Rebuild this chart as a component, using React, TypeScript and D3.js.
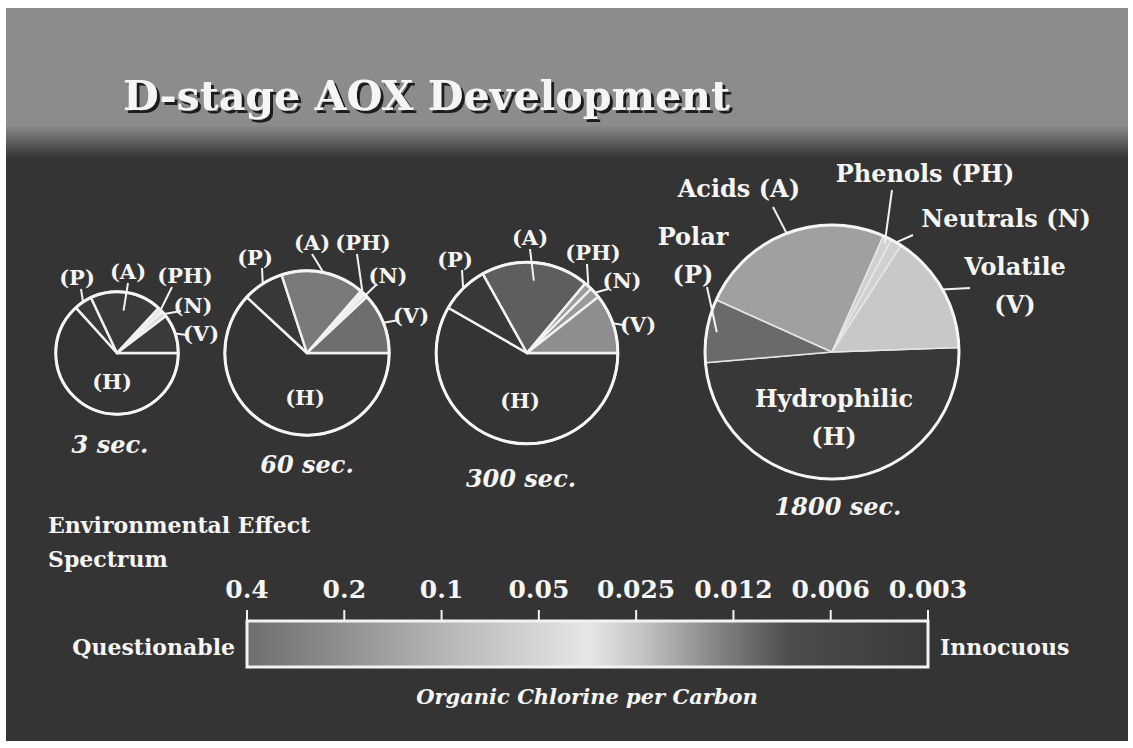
import * as d3 from "d3";

// AOX fractions, same order in every pie
const categories = ["H", "P", "A", "PH", "N", "V"];
const timeLabels = ["3 sec.", "60 sec.", "300 sec.", "1800 sec."];
// relative total AOX -> pie area
const totalAOX = [1.0, 1.8, 2.2, 4.3];
// % of AOX in each fraction (categories order)
const share3 = [63.3, 4.7, 18.9, 1.4, 1.4, 10.3];
const share60 = [61.9, 8.1, 16.4, 0.8, 0.8, 12.0];
const share300 = [58.3, 8.6, 19.2, 1.4, 1.9, 10.6];
const share1800 = [49.2, 8.1, 24.9, 1.1, 1.4, 15.3];
const shares = [share3, share60, share300, share1800];
// Cl/C spectrum
const tickLabels = ["0.4", "0.2", "0.1", "0.05", "0.025", "0.012", "0.006", "0.003"];

const W = 1133;
const H = 748;
const BG = "#343434";
const FONT = "'DejaVu Serif', serif";
const TXT = "#f5f5f5";

// layout of the four pies
const pieLayout = [
  { cx: 117, cy: 353, start: 90, fs: 21, fills: ["#343434", "#3a3a3a", "#3a3a3a", "#e8e8e8", "#d6d6d6", "#3a3a3a"], time: { x: 110, y: 453 } },
  { cx: 307, cy: 353, start: 90, fs: 21, fills: ["#343434", "#383838", "#7a7a7a", "#f0f0f0", "#e0e0e0", "#6e6e6e"], time: { x: 307, y: 473 } },
  { cx: 527, cy: 353, start: 90, fs: 21, fills: ["#343434", "#383838", "#5e5e5e", "#9a9a9a", "#9a9a9a", "#8e8e8e"], time: { x: 521, y: 487 } },
  { cx: 832, cy: 352, start: 88, fs: 24, fills: ["#383838", "#6a6a6a", "#a0a0a0", "#d0d0d0", "#d0d0d0", "#c8c8c8"], time: { x: 838, y: 515 } },
];

type Lab = { cat: string; lines: string[]; x: number; y: number; lx?: number; ly?: number; k?: number; anchor?: string };

const pieLabels: Lab[][] = [
  [
    { cat: "P", lines: ["(P)"], x: 77, y: 285, lx: 81, ly: 289, k: 1 },
    { cat: "A", lines: ["(A)"], x: 128, y: 279, lx: 128, ly: 283, k: 0.7 },
    { cat: "PH", lines: ["(PH)"], x: 185, y: 283, lx: 172, ly: 287, k: 1 },
    { cat: "N", lines: ["(N)"], x: 193, y: 313, lx: 181, ly: 311, k: 1 },
    { cat: "V", lines: ["(V)"], x: 201, y: 341, lx: 187, ly: 335, k: 1 },
    { cat: "H", lines: ["(H)"], x: 112, y: 389 },
  ],
  [
    { cat: "P", lines: ["(P)"], x: 255, y: 265, lx: 262, ly: 268, k: 1 },
    { cat: "A", lines: ["(A)"], x: 312, y: 250, lx: 312, ly: 254, k: 1 },
    { cat: "PH", lines: ["(PH)"], x: 363, y: 250, lx: 357, ly: 254, k: 1 },
    { cat: "N", lines: ["(N)"], x: 388, y: 283, lx: 377, ly: 284, k: 1 },
    { cat: "V", lines: ["(V)"], x: 411, y: 323, lx: 399, ly: 320, k: 1 },
    { cat: "H", lines: ["(H)"], x: 305, y: 405 },
  ],
  [
    { cat: "P", lines: ["(P)"], x: 455, y: 267, lx: 462, ly: 270, k: 1 },
    { cat: "A", lines: ["(A)"], x: 530, y: 245, lx: 530, ly: 249, k: 0.8 },
    { cat: "PH", lines: ["(PH)"], x: 593, y: 260, lx: 587, ly: 264, k: 1 },
    { cat: "N", lines: ["(N)"], x: 622, y: 288, lx: 608, ly: 289, k: 1 },
    { cat: "V", lines: ["(V)"], x: 638, y: 332, lx: 623, ly: 325, k: 1 },
    { cat: "H", lines: ["(H)"], x: 520, y: 408 },
  ],
  [
    { cat: "P", lines: ["Polar", "(P)"], x: 693, y: 245, lx: 707, ly: 287, k: 0.92 },
    { cat: "A", lines: ["Acids (A)"], x: 800, y: 197, lx: 773, ly: 207, k: 1, anchor: "end" },
    { cat: "PH", lines: ["Phenols (PH)"], x: 925, y: 182, lx: 892, ly: 190, k: 0.95 },
    { cat: "N", lines: ["Neutrals (N)"], x: 1006, y: 227, lx: 913, ly: 235, k: 1 },
    { cat: "V", lines: ["Volatile", "(V)"], x: 1015, y: 275, lx: 970, ly: 288, k: 1 },
    { cat: "H", lines: ["Hydrophilic", "(H)"], x: 834, y: 407 },
  ],
];

function Pie({ idx }: { idx: number }) {
  const lay = pieLayout[idx];
  const rScale = d3.scaleSqrt().domain([0, 4.3]).range([0, 127]);
  const r = rScale(totalAOX[idx]);
  const a0 = (lay.start * Math.PI) / 180;
  const arcs = d3.pie<number>().sort(null).startAngle(a0).endAngle(a0 + 2 * Math.PI)(shares[idx]);
  const arc = d3.arc<d3.PieArcDatum<number>>().innerRadius(0).outerRadius(r);
  const big = idx === 3;

  return (
    <g>
      <g transform={`translate(${lay.cx},${lay.cy})`}>
        {arcs.map((a, i) => (
          <path key={i} d={arc(a) || ""} fill={lay.fills[i]} stroke={big ? "#e6e6e6" : "#f2f2f2"} strokeWidth={big ? 1.6 : 2.4} strokeLinejoin="round" />
        ))}
        <circle r={r} fill="none" stroke="#f5f5f5" strokeWidth={3} />
      </g>
      {pieLabels[idx].map((l, i) => {
        const ci = categories.indexOf(l.cat);
        const s = arcs[ci];
        const mid = (s.startAngle + s.endAngle) / 2;
        const k = l.k ?? 1;
        const ex = lay.cx + k * r * Math.sin(mid);
        const ey = lay.cy - k * r * Math.cos(mid);
        return (
          <g key={i}>
            {l.lx !== undefined && (
              <line x1={l.lx} y1={l.ly} x2={ex} y2={ey} stroke="#f2f2f2" strokeWidth={2} />
            )}
            {l.lines.map((t, j) => (
              <text key={j} x={l.x} y={l.y + j * (lay.fs + 14)} textAnchor={l.anchor || "middle"} fontFamily={FONT} fontWeight="bold" fontSize={lay.fs} fill={TXT}>
                {t}
              </text>
            ))}
          </g>
        );
      })}
      <text x={lay.time.x} y={lay.time.y} textAnchor="middle" fontFamily={FONT} fontWeight="bold" fontStyle="italic" fontSize={24} fill={TXT}>
        {timeLabels[idx]}
      </text>
    </g>
  );
}

function Spectrum() {
  const x = d3.scalePoint<string>().domain(tickLabels).range([247, 928]);
  const top = 621;
  const bottom = 667;
  return (
    <g fontFamily={FONT} fontWeight="bold" fill={TXT}>
      <defs>
        <linearGradient id="clgrad" x1="0" x2="1" y1="0" y2="0">
          <stop offset="0" stopColor="#6e6e6e" />
          <stop offset="0.12" stopColor="#8a8a8a" />
          <stop offset="0.3" stopColor="#b8b8b8" />
          <stop offset="0.5" stopColor="#e6e6e6" />
          <stop offset="0.58" stopColor="#c4c4c4" />
          <stop offset="0.68" stopColor="#8a8a8a" />
          <stop offset="0.8" stopColor="#4c4c4c" />
          <stop offset="1" stopColor="#3a3a3a" />
        </linearGradient>
      </defs>
      <text x={48} y={533} fontSize={22}>Environmental Effect</text>
      <text x={48} y={567} fontSize={22}>Spectrum</text>
      {tickLabels.map((t) => (
        <g key={t}>
          <text x={x(t)} y={598} fontSize={25} textAnchor="middle">{t}</text>
          <line x1={x(t)} x2={x(t)} y1={610} y2={top} stroke="#f2f2f2" strokeWidth={2} />
        </g>
      ))}
      <rect x={247} y={top} width={928 - 247} height={bottom - top} fill="url(#clgrad)" stroke="#f2f2f2" strokeWidth={3} />
      <text x={235} y={655} fontSize={22} textAnchor="end">Questionable</text>
      <text x={940} y={655} fontSize={22}>Innocuous</text>
      <text x={587} y={704} fontSize={21} fontStyle="italic" textAnchor="middle">Organic Chlorine per Carbon</text>
    </g>
  );
}

export default function App() {
  return (
    <svg width={W} height={H} style={{ position: "absolute", left: 0, top: 0 }}>
      <defs>
        <linearGradient id="bandgrad" gradientUnits="userSpaceOnUse" x1="0" x2="0" y1="0" y2={H}>
          <stop offset={125 / H} stopColor="#8c8c8c" />
          <stop offset={158 / H} stopColor={BG} />
          <stop offset="1" stopColor={BG} />
        </linearGradient>
        <filter id="titleshadow" x="-5%" y="-20%" width="110%" height="150%">
          <feDropShadow dx="3" dy="3" stdDeviation="0.6" floodColor="#1a1a1a" floodOpacity="1" />
        </filter>
      </defs>
      <rect x={0} y={0} width={W} height={H} fill="#ffffff" />
      <rect x={6} y={8} width={W - 11} height={H - 15} fill="url(#bandgrad)" />
      <text x={123} y={110} fontFamily={FONT} fontWeight="bold" fontSize={41} fill={TXT} textLength={607} lengthAdjust="spacingAndGlyphs" filter="url(#titleshadow)">
        D-stage AOX Development
      </text>
      {pieLayout.map((_, i) => (
        <Pie key={i} idx={i} />
      ))}
      <Spectrum />
    </svg>
  );
}
